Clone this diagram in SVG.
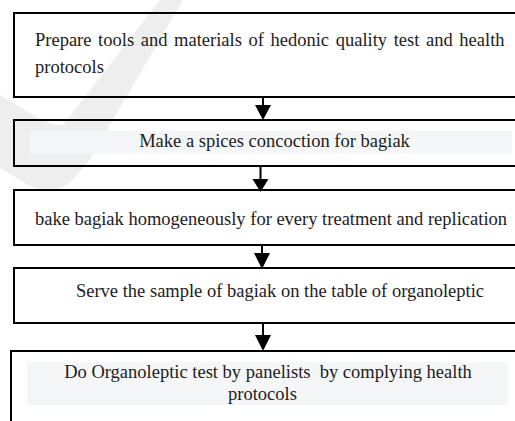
<svg xmlns="http://www.w3.org/2000/svg" width="515" height="421" viewBox="0 0 515 421">
<style>
.box{fill:none;stroke:#000;stroke-width:2}
.hl{fill:#f5f6f8}
.t{font-family:"Liberation Serif","Times New Roman",serif;font-size:18.5px;fill:#1c1c1c;white-space:pre}
.c{text-anchor:middle}
.con{stroke:#000;stroke-width:2;fill:none}
.head{fill:#000}
.wm{fill:#eeeeee}
</style>
<path class="wm" d="M160,0 L183,0 L108,128 Q92,162 68,184 Q50,196 30,186 L0,168 L0,95 L35,116 Q55,128 64,124 Z"/>
<g id="node1">
<rect class="box" x="14" y="13" width="520" height="84"/>
<text class="t" x="35" y="46" style="word-spacing:2px">Prepare tools and materials of hedonic quality test and health</text>
<text class="t" x="35" y="73">protocols</text>
</g>
<g id="node2">
<rect class="hl" x="30" y="131" width="482" height="23"/>
<rect class="box" x="14" y="120" width="520" height="46"/>
<text class="t c" x="274.5" y="147">Make a spices concoction for bagiak</text>
</g>
<g id="node3">
<rect class="box" x="14" y="190" width="520" height="55"/>
<text class="t c" x="271" y="225">bake bagiak homogeneously for every treatment and replication</text>
</g>
<g id="node4">
<rect class="box" x="14" y="268" width="520" height="55"/>
<text class="t c" x="280" y="297">Serve the sample of bagiak on the table of organoleptic</text>
</g>
<g id="node5">
<rect class="hl" x="27" y="362" width="481" height="43"/>
<rect class="box" x="11" y="351" width="523" height="90"/>
<text class="t c" x="268" y="378">Do Organoleptic test by panelists  by complying health</text>
<text class="t c" x="262.5" y="400">protocols</text>
</g>
<g id="connectors">
<line class="con" x1="263" y1="97" x2="263" y2="106"/>
<polygon class="head" points="255,105 271,105 263,120"/>
<line class="con" x1="260.5" y1="166" x2="260.5" y2="180"/>
<polygon class="head" points="252.5,179 268.5,179 260.5,192"/>
<line class="con" x1="262" y1="245" x2="262" y2="254"/>
<polygon class="head" points="254,253 270,253 262,269"/>
<line class="con" x1="263" y1="323" x2="263" y2="336"/>
<polygon class="head" points="255,335 271,335 263,351"/>
</g>
</svg>
